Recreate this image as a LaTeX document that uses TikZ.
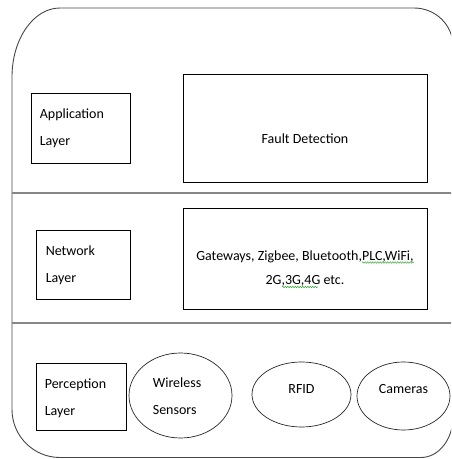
\documentclass[tikz,border=0pt]{standalone}
\usepackage{fontspec}
\setmainfont{Carlito}
\usetikzlibrary{shapes.geometric,decorations.pathmorphing}
\definecolor{outline}{RGB}{70,70,70}
\definecolor{divider}{RGB}{135,135,135}
\definecolor{squig}{RGB}{60,170,60}
\tikzset{
  box/.style={draw=black, line width=0.8pt, rectangle, inner sep=0pt},
  oval/.style={draw=black!85, line width=0.7pt, ellipse, inner sep=0pt},
  lbl/.style={font=\fontsize{14}{27}\selectfont, inner sep=0pt, align=left},
  txt/.style={font=\fontsize{14}{24}\selectfont, inner sep=0pt, align=center},
  divline/.style={draw=divider, line width=2.2pt},
  outer/.style={draw=outline, line width=0.9pt},
  spell/.style={draw=squig, line width=0.5pt, decorate, decoration={snake, amplitude=0.8pt, segment length=2.5pt}}
}
\begin{document}
\begin{tikzpicture}[x=1pt,y=1pt]
\useasboundingbox (0,0) rectangle (451,459);
\begin{scope}
\clip (0,0) rectangle (451,459);
\draw[outer] (12,382) arc[start angle=180,end angle=90,x radius=48,y radius=69]
  -- (414,451) arc[start angle=90,end angle=0,x radius=39,y radius=38]
  -- (453,42) arc[start angle=0,end angle=-90,x radius=32,y radius=40.5]
  -- (60,1.5) arc[start angle=270,end angle=180,x radius=48,y radius=48] -- cycle;
\coordinate (d1l) at (12,266);
\coordinate (d1r) at (452,266);
\coordinate (d2l) at (12,136);
\coordinate (d2r) at (452,136);
\draw[divline] (d1l) -- (d1r);
\draw[divline] (d2l) -- (d2r);
\end{scope}

% boxes
\node[box, minimum width=99pt, minimum height=70pt] (app) at (80.5,331) {};
\node[box, minimum width=244pt, minimum height=108pt] (fault) at (305,331) {};
\node[box, minimum width=94pt, minimum height=69pt] (net) at (83,194.5) {};
\node[box, minimum width=244pt, minimum height=101pt] (gw) at (305,200.5) {};
\node[box, minimum width=90pt, minimum height=67pt] (perc) at (81,62.5) {};
\node[oval, minimum width=103pt, minimum height=85pt] (ws) at (180.5,63.5) {};
\node[oval, minimum width=99pt, minimum height=65pt] (rfid) at (301.5,64.5) {};
\node[oval, minimum width=93pt, minimum height=68pt] (cam) at (403.5,63) {};

% texts
\node[lbl, anchor=west] (apptext) at ([xshift=9pt]app.west) {Application\\Layer};
\node[lbl, anchor=west] (nettext) at ([xshift=10pt,yshift=-0.75pt]net.west) {Network\\Layer};
\node[lbl, anchor=west] (perctext) at ([xshift=9pt,yshift=-1.75pt]perc.west) {Perception\\Layer};
\node[lbl, anchor=west] (wstext) at ([xshift=24pt,yshift=-1pt]ws.west) {Wireless\\Sensors};
\node[txt] (faulttext) at ([yshift=-11pt]fault.center) {Fault Detection};
\node[txt, anchor=north] (gwtext) at ([yshift=8.3pt]gw.center) {Gateways, Zigbee, Bluetooth,PLC,WiFi,\\2G,3G,4G etc.};
\node[txt] (rfidtext) at ([yshift=5pt]rfid.center) {RFID};
\node[txt] (camtext) at ([yshift=6.5pt]cam.center) {Cameras};

% spell-check underlines
\coordinate (s1a) at (362,196.5);
\coordinate (s1b) at (414,196.5);
\coordinate (s2a) at (282,172);
\coordinate (s2b) at (318,172);
\draw[spell] (s1a) -- (s1b);
\draw[spell] (s2a) -- (s2b);
\end{tikzpicture}
\end{document}
